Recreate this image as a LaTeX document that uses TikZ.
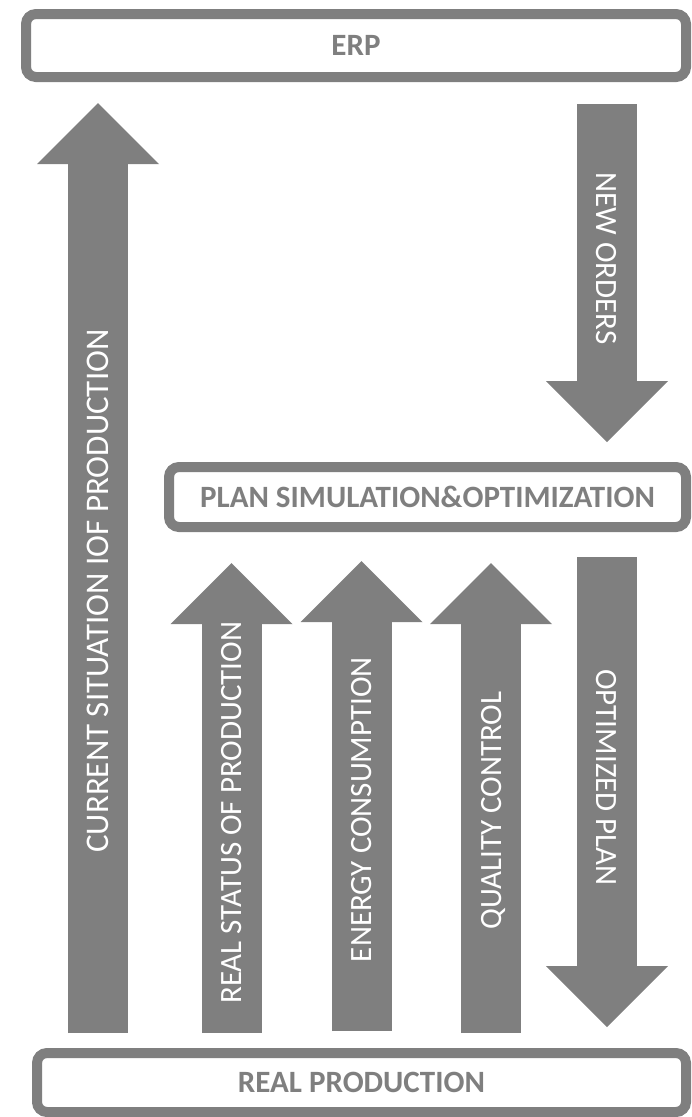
\documentclass[tikz,border=0pt]{standalone}
\usepackage{fontspec}
\setmainfont{Carlito}
\usepackage{tikz}
\usetikzlibrary{arrows.meta}
\definecolor{colorFrame}{HTML}{7F7F7F}
\colorlet{colorFlow}{colorFrame}
\tikzset{
  stage/.style={draw=colorFrame, line width=10pt, rounded corners=10pt, fill=white, text=colorFrame, inner sep=0pt, font=\fontsize{31}{37}\selectfont\bfseries},
  flow/.style={draw=colorFlow, line width=60pt, -{Triangle[width=122pt, length=61pt, line width=0pt]}},
  flowlabel/.style={text=white, inner sep=0pt, text depth=0pt, font=\fontsize{31}{37}\selectfont}
}

\begin{document}
\begin{tikzpicture}[x=1pt, y=-1pt]
\useasboundingbox (0,0) rectangle (692,1117);
\node[stage, minimum width=660pt, minimum height=63pt] (erp) at (356,45.5) {ERP};
\node[stage, minimum width=517pt, minimum height=60pt] (plan) at (427.5,497) {PLAN SIMULATION\&OPTIMIZATION};
\node[stage, minimum width=649pt, minimum height=59pt] (prod) at (361.5,1082.5) {REAL PRODUCTION};
\coordinate (xcurrent) at (98,0);
\coordinate (xstatus) at (231.5,0);
\coordinate (xenergy) at (361.5,0);
\coordinate (xquality) at (491,0);
\coordinate (xplan) at (607,0);
\draw[flow, shorten <=15pt, shorten >=21pt] (prod.north -| xcurrent) -- node[flowlabel, pos=0.473, rotate=90, font=\fontsize{33}{39}\selectfont] {CURRENT SITUATION IOF PRODUCTION} (erp.south -| xcurrent);
\draw[flow, shorten <=22pt, shorten >=20pt] (erp.south -| xplan) -- node[flowlabel, pos=0.464, rotate=-90] {NEW ORDERS} (plan.north -| xplan);
\draw[flow, shorten <=15pt, shorten >=31pt] (prod.north -| xstatus) -- node[flowlabel, pos=0.456, rotate=90] {REAL STATUS OF PRODUCTION} (plan.south -| xstatus);
\draw[flow, shorten <=17pt, shorten >=29pt] (prod.north -| xenergy) -- node[flowlabel, pos=0.462, rotate=90] {ENERGY CONSUMPTION} (plan.south -| xenergy);
\draw[flow, shorten <=15pt, shorten >=31pt] (prod.north -| xquality) -- node[flowlabel, pos=0.460, rotate=90] {QUALITY CONTROL} (plan.south -| xquality);
\draw[flow, shorten <=25pt, shorten >=21pt] (plan.south -| xplan) -- node[flowlabel, pos=0.476, rotate=-90] {OPTIMIZED PLAN} (prod.north -| xplan);
\end{tikzpicture}
\end{document}
